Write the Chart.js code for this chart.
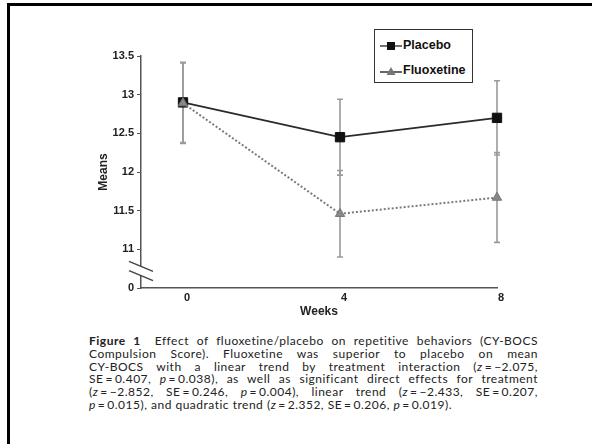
<!DOCTYPE html>
<html>
<head>
<meta charset="utf-8">
<script src="https://cdn.jsdelivr.net/npm/chart.js@4"></script>
<style>
  html, body { margin: 0; padding: 0; background: #fff; }
  body { width: 592px; height: 444px; position: relative; overflow: hidden; }
  #frame { position: absolute; left: 7px; top: 3px; right: 0; bottom: 0;
           border-top: 3px solid #000; border-left: 3px solid #000; }
  #wrap { position: absolute; left: 0; top: 0; width: 592px; height: 330px; }
  #legend { position: absolute; left: 374px; top: 29px; width: 97px; height: 52px;
            border: 1.5px solid #333; background: #fff;
            font: bold 12.5px "Liberation Sans", Arial, sans-serif; color: #111; }
  #legend div { position: absolute; left: 5px; height: 16px; line-height: 16px; white-space: nowrap; }
  #legend svg { vertical-align: middle; margin-right: 1px; }
  #caption { position: absolute; left: 89px; width: 449px; top: 335px;
             font: 12px Lato, "Open Sans", sans-serif; letter-spacing: 0.5px;
             line-height: 12.8px; color: #222; }
  #caption div { text-align: justify; text-align-last: justify; white-space: nowrap; }
  #caption div.last { text-align-last: left; }
  #caption i { font-style: italic; }
  .gap { display: inline-block; width: 14px; }
</style>
</head>
<body>
<div id="frame"></div>
<div id="wrap"><canvas id="chartCybocs" width="592" height="330"></canvas></div>
<div id="legend">
  <div style="top:7px"><svg width="22" height="10"><line x1="0" y1="5" x2="22" y2="5" stroke="#444" stroke-width="1.5"/><rect x="7" y="1" width="8" height="8" fill="#111"/></svg>Placebo</div>
  <div style="top:32px"><svg width="22" height="10"><line x1="0" y1="6" x2="22" y2="6" stroke="#333" stroke-width="1.5"/><polygon points="11,1 15.5,9 6.5,9" fill="#777"/></svg>Fluoxetine</div>
</div>
<div id="caption">
  <div><b>Figure 1</b><span class="gap"></span>Effect of fluoxetine/placebo on repetitive behaviors (CY-BOCS</div>
  <div>Compulsion Score). Fluoxetine was superior to placebo on mean</div>
  <div>CY-BOCS with a linear trend by treatment interaction (<i>z</i>&#8201;=&#8201;&minus;2.075,</div>
  <div>SE&#8201;=&#8201;0.407, <i>p</i>&#8201;=&#8201;0.038), as well as significant direct effects for treatment</div>
  <div>(<i>z</i>&#8201;=&#8201;&minus;2.852, SE&#8201;=&#8201;0.246, <i>p</i>&#8201;=&#8201;0.004), linear trend (<i>z</i>&#8201;=&#8201;&minus;2.433, SE&#8201;=&#8201;0.207,</div>
  <div class="last"><i>p</i>&#8201;=&#8201;0.015), and quadratic trend (<i>z</i>&#8201;=&#8201;2.352, SE&#8201;=&#8201;0.206, <i>p</i>&#8201;=&#8201;0.019).</div>
</div>
<script>
// data
const weeks = [0, 4, 8];
const placeboMeans = [12.9, 12.45, 12.7];
const placeboErr = [0.52, 0.49, 0.48];
const fluoxetineMeans = [12.89, 11.46, 11.67];
const fluoxetineErr = [0.52, 0.56, 0.58];
const yTicks = [10.5, 11, 11.5, 12, 12.5, 13, 13.5];
const yTickLabels = ["0", "11", "11.5", "12", "12.5", "13", "13.5"];

const tickFont = {family: "'Liberation Sans', Arial, sans-serif", size: 11, weight: 'bold'};
const titleFont = {family: "'Liberation Sans', Arial, sans-serif", size: 12, weight: 'bold'};

function toPoints(xs, ys) {
  var pts = [];
  for (var i = 0; i < xs.length; i++) {
    pts.push({x: xs[i], y: ys[i]});
  }
  return pts;
}

// error bars go under the markers, axis break on top
const errorBarsPlugin = {
  id: 'errorBars',
  beforeDatasetsDraw(chart) {
    const ctx = chart.ctx;
    const xs = chart.scales.x, ys = chart.scales.y;
    const sets = [[placeboMeans, placeboErr], [fluoxetineMeans, fluoxetineErr]];
    ctx.save();
    ctx.strokeStyle = '#9a9a9a';
    ctx.lineWidth = 1.6;
    sets.forEach(function (s) {
      for (var i = 0; i < weeks.length; i++) {
        var px = xs.getPixelForValue(weeks[i]);
        var top = ys.getPixelForValue(s[0][i] + s[1][i]);
        var bot = ys.getPixelForValue(s[0][i] - s[1][i]);
        ctx.beginPath();
        ctx.moveTo(px, top); ctx.lineTo(px, bot);
        ctx.moveTo(px - 3, top); ctx.lineTo(px + 3, top);
        ctx.moveTo(px - 3, bot); ctx.lineTo(px + 3, bot);
        ctx.stroke();
      }
    });
    ctx.restore();
  },
  afterDraw(chart) {
    const ctx = chart.ctx;
    const ys = chart.scales.y;
    const ax = chart.chartArea.left;
    const y1 = ys.getPixelForValue(10.78);
    const y2 = ys.getPixelForValue(10.66);
    ctx.save();
    ctx.fillStyle = '#fff';
    ctx.fillRect(ax - 2, y1, 4, y2 - y1);
    ctx.strokeStyle = '#444';
    ctx.lineWidth = 1.5;
    ctx.beginPath();
    ctx.moveTo(ax - 12, y1 - 5); ctx.lineTo(ax + 12, y1 + 5);
    ctx.moveTo(ax - 12, y2 - 5); ctx.lineTo(ax + 12, y2 + 5);
    ctx.stroke();
    ctx.restore();
  }
};

const config = {
  type: 'line',
  data: {
    datasets: [
      {
        label: 'Placebo',
        data: toPoints(weeks, placeboMeans),
        borderColor: '#2a2a2a',
        borderWidth: 1.8,
        pointStyle: 'rect',
        pointRadius: 6.6,
        pointBackgroundColor: '#111',
        pointBorderColor: '#111',
        pointBorderWidth: 1,
        clip: false,
        order: 2
      },
      {
        label: 'Fluoxetine',
        data: toPoints(weeks, fluoxetineMeans),
        borderColor: '#7a7a7a',
        borderWidth: 2,
        borderDash: [2, 2],
        pointStyle: 'triangle',
        pointRadius: 5.4,
        pointBackgroundColor: '#888',
        pointBorderColor: '#777',
        pointBorderWidth: 1,
        clip: false,
        order: 1
      }
    ]
  },
  options: {
    responsive: false,
    animation: false,
    devicePixelRatio: 1,
    layout: {padding: {left: 0, top: 56, right: 95, bottom: 0}},
    plugins: {
      legend: {display: false},
      tooltip: {enabled: false}
    },
    scales: {
      x: {
        type: 'linear',
        min: -1.07,
        max: 8,
        afterBuildTicks: function (scale) {
          scale.ticks = weeks.map(function (w) { return {value: w}; });
        },
        afterFit: function (scale) { scale.height = 42; },
        grid: {display: false, drawTicks: false},
        border: {display: true, color: '#555', width: 1.5},
        ticks: {font: tickFont, color: '#222', padding: 3, maxRotation: 0, labelOffset: 4},
        title: {display: true, text: 'Weeks', font: titleFont, color: '#222', padding: {top: 0, bottom: 11}}
      },
      y: {
        min: 10.5,
        max: 13.5,
        afterBuildTicks: function (scale) {
          scale.ticks = yTicks.map(function (v) { return {value: v}; });
        },
        afterFit: function (scale) { scale.width = 141; },
        grid: {drawOnChartArea: false, drawTicks: true, tickLength: 4, color: '#555', lineWidth: 1},
        border: {display: true, color: '#555', width: 1.5},
        ticks: {
          font: tickFont, color: '#222', padding: 3,
          callback: function (v) { return yTickLabels[yTicks.indexOf(v)]; }
        },
        title: {display: true, text: 'Means', font: titleFont, color: '#222', padding: {top: 96, bottom: 0}}
      }
    }
  },
  plugins: [errorBarsPlugin]
};

const myChart = new Chart(document.getElementById('chartCybocs'), config);
</script>
</body>
</html>
